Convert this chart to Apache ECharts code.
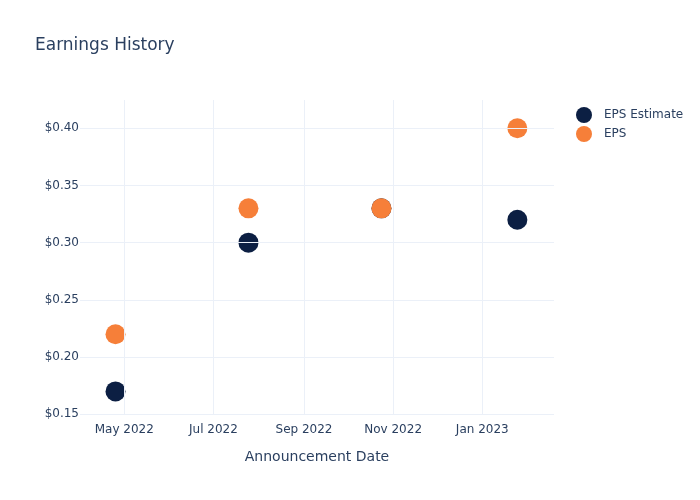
<!DOCTYPE html>
<html>
<head>
<meta charset="utf-8">
<script src="https://cdn.jsdelivr.net/npm/echarts@6/dist/echarts.min.js"></script>
<style>html,body{margin:0;padding:0;background:#fff}#c{width:700px;height:500px}</style>
</head>
<body>
<div id="c"></div>
<script>
const dates = ['2022-04-25', '2022-07-25', '2022-10-24', '2023-01-25'];
const estimateValues = [0.17, 0.30, 0.33, 0.32];
const epsValues = [0.22, 0.33, 0.33, 0.40];
const xTickDates = ['2022-05-01', '2022-07-01', '2022-09-01', '2022-11-01', '2023-01-01'];
const yTickValues = [0.15, 0.20, 0.25, 0.30, 0.35, 0.40];
const xRange = ['2022-03-31T17:00:00', '2023-02-19T02:00:00'];
const yRange = [0.15, 0.4247];

const months = ['Jan','Feb','Mar','Apr','May','Jun','Jul','Aug','Sep','Oct','Nov','Dec'];
const ts = s => new Date(s.length === 10 ? s + 'T00:00:00' : s).getTime();
const xTicks = xTickDates.map(ts);
const font = 'DejaVu Sans';
const textColor = '#2a3f5f';
const gridColor = '#EBF0F8';

const chart = echarts.init(document.getElementById('c'), null, {renderer: 'canvas'});
chart.setOption({
  animation: false,
  backgroundColor: '#fff',
  title: {
    text: 'Earnings History',
    left: 35, top: 37, padding: 0,
    textStyle: {fontFamily: font, fontSize: 17, fontWeight: 'normal', color: textColor}
  },
  legend: {
    left: 571, top: 102, orient: 'vertical',
    itemWidth: 30, itemHeight: 16, itemGap: 3,
    icon: 'circle',
    data: ['EPS Estimate', 'EPS'],
    textStyle: {fontFamily: font, fontSize: 12, color: textColor}
  },
  grid: {left: 80, top: 100, width: 474, height: 314.3, containLabel: false},
  xAxis: {
    type: 'value',
    min: ts(xRange[0]), max: ts(xRange[1]),
    name: 'Announcement Date', nameLocation: 'middle', nameGap: 36,
    nameTextStyle: {fontFamily: font, fontSize: 14, color: textColor},
    axisLine: {show: false}, axisTick: {show: false}, splitLine: {show: false},
    axisLabel: {
      customValues: xTicks, margin: 10,
      fontFamily: font, fontSize: 12, color: textColor,
      formatter: v => { const d = new Date(v); return months[d.getMonth()] + ' ' + d.getFullYear(); }
    }
  },
  yAxis: {
    type: 'value',
    min: yRange[0], max: yRange[1],
    axisLine: {show: false}, axisTick: {show: false}, splitLine: {show: false},
    axisLabel: {
      customValues: yTickValues, margin: 1,
      fontFamily: font, fontSize: 12, color: textColor,
      formatter: v => '$' + v.toFixed(2)
    }
  },
  series: [
    {
      type: 'scatter', data: [], z: 1, silent: true,
      markLine: {
        silent: true, symbol: 'none', animation: false,
        label: {show: false},
        lineStyle: {color: gridColor, width: 1, type: 'solid'},
        data: xTicks.map(t => ({xAxis: t})).concat(yTickValues.map(v => ({yAxis: v})))
      }
    },
    {
      name: 'EPS Estimate', type: 'scatter', z: 3,
      symbolSize: 20,
      itemStyle: {color: '#0c1f43', opacity: 1},
      data: dates.map((d, i) => [ts(d), estimateValues[i]])
    },
    {
      name: 'EPS', type: 'scatter', z: 4,
      symbolSize: 20,
      itemStyle: {color: '#f67f39', opacity: 1},
      data: dates.map((d, i) => [ts(d), epsValues[i]])
    }
  ]
});
</script>
</body>
</html>
